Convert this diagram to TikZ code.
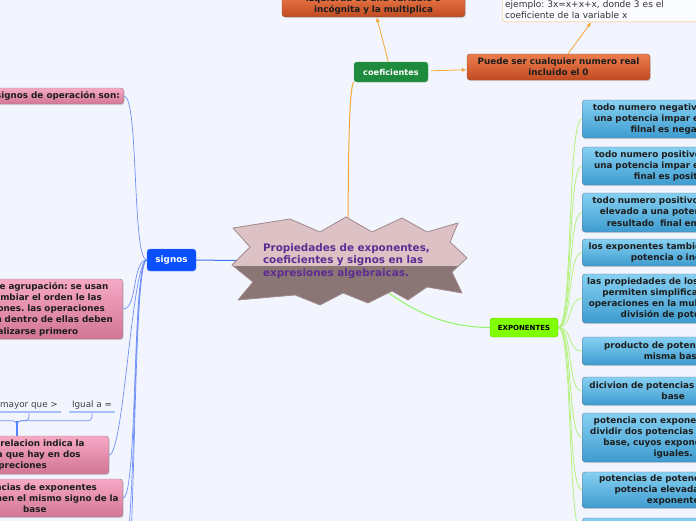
\documentclass[tikz,border=0pt]{standalone}
\usepackage{fontspec}
\setmainfont{DejaVu Sans}
\usepackage{tikz}
\usetikzlibrary{arrows.meta, positioning, calc, shadows}

\definecolor{mapbg}{HTML}{F2F5FE}
\definecolor{hublight}{HTML}{DCC1C5}
\definecolor{hubdark}{HTML}{8B7676}
\definecolor{hubdraw}{HTML}{A38C8F}
\definecolor{hubtext}{HTML}{5C2D91}
\definecolor{signosblue}{HTML}{0A50FF}
\definecolor{coefgreen}{HTML}{1E8A3C}
\definecolor{expgreen}{HTML}{80FF00}
\definecolor{pinktop}{HTML}{F6A9C5}
\definecolor{pinkbot}{HTML}{D27595}
\definecolor{pinkdraw}{HTML}{9A8890}
\definecolor{bluetop}{HTML}{86D0F2}
\definecolor{bluebot}{HTML}{3E9CCF}
\definecolor{bluedraw}{HTML}{5D7A92}
\definecolor{orangetop}{HTML}{EC7D4D}
\definecolor{orangebot}{HTML}{C24B22}
\definecolor{orangedraw}{HTML}{8C5538}
\definecolor{sglink}{HTML}{6F8FF8}
\definecolor{coeflink}{HTML}{F5A53A}
\definecolor{explink}{HTML}{B4F27C}
\definecolor{inktext}{HTML}{1E1E1E}

\pgfdeclarelayer{bg}
\pgfdeclarelayer{edges}
\pgfsetlayers{bg,edges,main}

\newcommand\hubstar{(233,228) -- (290,219) -- (320,232) -- (346,217) -- (372,232)
  -- (402,218) -- (427,232) -- (458,223) -- (450,242) -- (467,258) -- (452,272)
  -- (462,293) -- (427,287) -- (408,300) -- (392,291) -- (368,303) -- (343,293)
  -- (320,305) -- (295,295) -- (238,300) -- (253,282) -- (232,265) -- (250,247) -- cycle}

\tikzset{
  boxfont/.style={font=\fontsize{8.8}{11.2}\selectfont\bfseries\frenchspacing},
  boxshadow/.style={drop shadow={opacity=0.25, shadow xshift=0.8pt, shadow yshift=-1.2pt}},
  pinkbox/.style={draw=pinkdraw, rounded corners=3pt, top color=pinktop, bottom color=pinkbot,
                  boxshadow, boxfont, text=inktext, align=center, inner xsep=4pt, inner ysep=2pt,
                  anchor=east},
  bluebox/.style={draw=bluedraw, rounded corners=3pt, top color=bluetop, bottom color=bluebot,
                  boxshadow, boxfont, text=inktext, align=center, inner xsep=4pt, inner ysep=2pt,
                  text width=174pt, anchor=west},
  orangebox/.style={draw=orangedraw, rounded corners=3pt, top color=orangetop, bottom color=orangebot,
                    boxshadow, boxfont, text=inktext, align=center, inner xsep=4pt, inner ysep=2pt},
  notebox/.style={draw=coeflink!80, rounded corners=3pt, fill=white!70!mapbg,
                  font=\fontsize{9}{11.2}\selectfont\frenchspacing, text=black!80, align=left, inner sep=3pt},
  topicbox/.style={rounded corners=3pt, boxfont, text=white, inner sep=2pt},
  hubtxt/.style={font=\fontsize{10.4}{12.5}\selectfont\bfseries, text=hubtext,
                 align=left, text width=170pt},
  leaf/.style={font=\fontsize{8.8}{11}\selectfont, text=black!75, inner xsep=3pt, inner ysep=2pt},
  sgedge/.style={sglink, line width=0.7pt},
  expedge/.style={explink, line width=0.8pt},
  coefarr/.style={-{Latex[length=5pt,width=4pt]}, coeflink, line width=0.8pt},
}

\begin{document}
\begin{tikzpicture}[x=1pt, y=-1pt]
\useasboundingbox (0,0) rectangle (696,520);
\begin{pgfonlayer}{bg}
  \fill[mapbg] (-5,-5) rectangle (701,525);
\end{pgfonlayer}

% central star
\fill[hubdark] \hubstar;
\begin{scope}
  \clip (200,200) rectangle (480,265);
  \fill[hublight] \hubstar;
\end{scope}
\draw[hubdraw, line width=0.8pt, line join=round] \hubstar;
\node[hubtxt] (hub) at (348,261)
  {Propiedades de exponentes,\\coeficientes y signos en las\\expresiones algebraicas.};

% main topics
\node[topicbox, fill=signosblue, draw=signosblue!70!white, minimum width=49pt, minimum height=22pt]
  (signos) at (171.5,260) {signos};
\node[topicbox, fill=coefgreen, draw=coefgreen!80!white, minimum width=74pt, minimum height=20pt,
      font=\fontsize{8.2}{10}\selectfont\bfseries] (coef) at (391,72) {coeficientes};
\node[topicbox, fill=expgreen, draw=expgreen!80!black, text=black, minimum width=68pt, minimum height=19pt,
      font=\fontsize{7}{9}\selectfont\bfseries] (exp) at (524,327.5) {EXPONENTES};

% coeficientes
\node[orangebox, text width=175pt, anchor=south] (coefdef) at (373.5,17)
  {izquierda de una variable o\\incógnita y la multiplica};
\node[orangebox, text width=175pt, minimum height=26pt] (realnum) at (558.5,67)
  {Puede ser cualquier numero real\\incluido el 0};
\node[notebox, text width=190pt, anchor=south west] (ejemplo) at (502,22)
  {ejemplo: 3x=x+x+x, donde 3 es el\\coeficiente de la variable x};

\draw[coefarr] (coef) -- (coefdef);
\draw[coefarr, shorten <=3pt] (coef) -- (realnum);
\draw[coefarr] (realnum) -- (ejemplo);

% signos
\node[pinkbox, minimum height=16pt] (ops) at (124,96) {Los signos de operación son:};
\node[pinkbox, text width=172pt, minimum height=60pt] (agrup) at (123,309)
  {Signos de agrupación: se usan\\para cambiar el orden le las\\operaciones. las operaciones\\que estan dentro de ellas deben\\realizarse primero};
\node[pinkbox, text width=176pt, minimum height=38pt] (rel) at (109,455)
  {Signos de relacion indica la\\diferencia que hay en dos\\expreciones};
\node[pinkbox, text width=168pt, minimum height=38pt] (pot) at (123,498)
  {Potencias de exponentes\\impar tienen el mismo signo de la\\base};
\coordinate (sgmoreA) at (122,560);
\coordinate (sgmoreB) at (122,610);

\node[leaf, anchor=south] (mayor) at (29,412) {mayor que >};
\node[leaf, anchor=south] (igual) at (92,412) {Igual a =};
\coordinate (menor) at (-40,412);
\draw[sglink!60, line width=1.4pt] (mayor.south west) -- (mayor.south east);
\draw[sglink!60, line width=1.4pt] (igual.south west) -- (igual.south east);

% exponentes
\node[bluebox, minimum height=38pt] (negimpar) at (582,119)
  {todo numero negativo elevado a\\una potencia impar el resultado\\filnal es negativo};
\node[bluebox, minimum height=38pt] (posimpar) at (582,166)
  {todo numero positivo elevado a\\una potencia impar el resultado\\final es positivo};
\node[bluebox, minimum height=39pt] (par) at (582,212.5)
  {todo numero positivo o negativo\\elevado a una potencia par el\\resultado\ \ final en positivo};
\node[bluebox, minimum height=27pt] (indice) at (582,252.5)
  {los exponentes tambien se llaman\\potencia o indice};
\node[bluebox, minimum height=49pt] (props) at (582,298.5)
  {las propiedades de los exponentes\\permiten simplificar algunas\\operaciones en la multiplicación y\\división de potencias};
\node[bluebox, minimum height=28pt] (producto) at (582,351)
  {producto de potencias de la\\misma base};
\node[bluebox, minimum height=28pt] (division) at (582,391)
  {dicivion de potencias de la misma\\base};
\node[bluebox, minimum height=49pt] (cero) at (582,437.5)
  {potencia con exponente cero: al\\dividir dos potencias de la misma\\base, cuyos exponentes son\\iguales.};
\node[bluebox, minimum height=36pt] (potpot) at (582,490)
  {potencias de potencia: es una\\potencia elevada a otro\\exponente};
\node[bluebox, minimum height=32pt] (lastexp) at (582,534) {};

% connectors
\begin{pgfonlayer}{edges}
  \draw[signosblue!80, line width=1pt] (signos) -- (hub.center);
  \draw[coeflink, line width=1pt] (hub.center) .. controls (348,130) and (350,85) .. (coef.south west);
  \draw[explink!80!green, line width=1pt] (hub.center) .. controls (395,300) and (430,327) .. (exp.west);
  \foreach \t in {ops,agrup,rel,pot}
    \draw[sgedge] (signos.west) .. controls +(-15,0) and +(15,0) .. (\t.east);
  \draw[sgedge] (signos.west) .. controls +(-15,0) and +(15,0) .. (sgmoreA);
  \draw[sgedge] (signos.west) .. controls +(-15,0) and +(15,0) .. (sgmoreB);
  \foreach \t in {negimpar,posimpar,par,indice,props,producto,division,cero,potpot,lastexp}
    \draw[expedge] (exp.east) .. controls +(15,0) and +(-15,0) .. (\t.west);
  \draw[sgedge, rounded corners=4pt] (rel.north) -- ++(0,-15) -| (mayor.south);
  \draw[sgedge, rounded corners=4pt] (rel.north) -- ++(0,-15) -| (igual.south);
  \draw[sgedge, rounded corners=4pt] (rel.north) -- ++(0,-15) -| (menor);
  \draw[signosblue!70, line width=1.6pt] (rel.north) -- ++(0,-15);
\end{pgfonlayer}
\end{tikzpicture}
\end{document}
